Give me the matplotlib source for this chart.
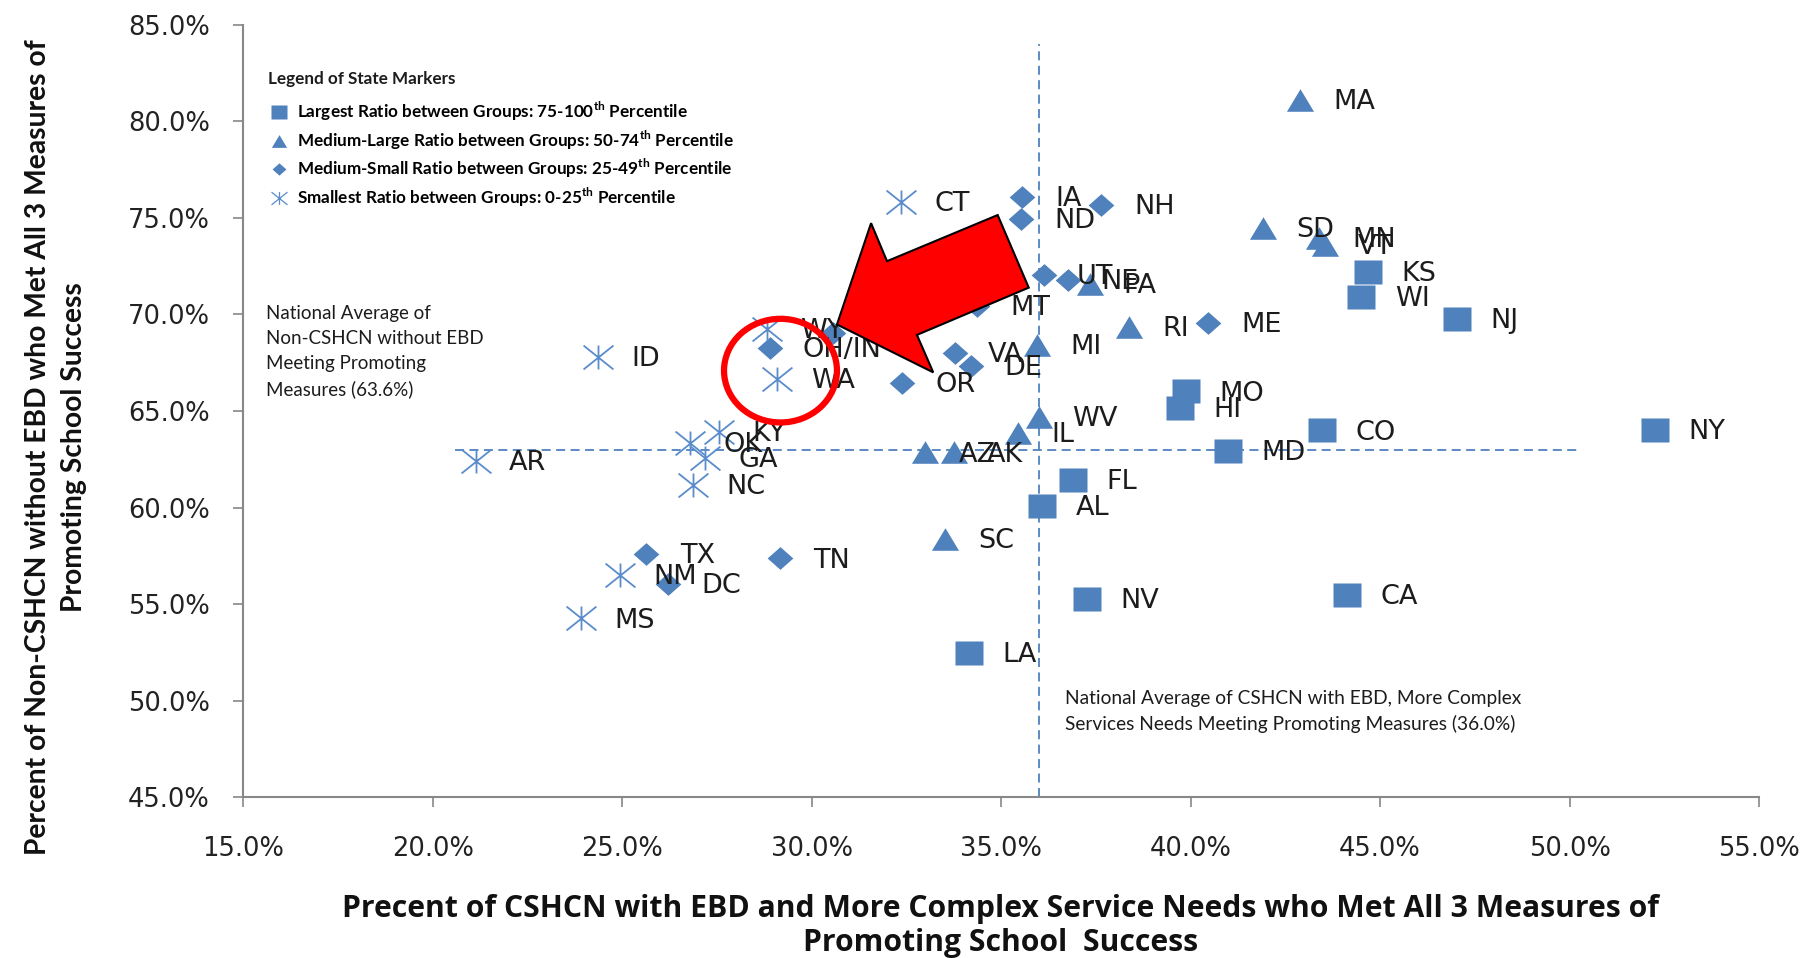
import matplotlib.pyplot as plt
import numpy as np
from matplotlib.lines import Line2D
from matplotlib.patches import Ellipse, Polygon
from matplotlib.path import Path

plt.rcParams['mathtext.fontset'] = 'custom'
plt.rcParams['mathtext.rm'] = 'Lato:bold'

BLUE = '#4F81BD'
TXT = '#1c1c1c'

# Largest ratio between groups: 75-100th percentile (squares)
sq_states = ['KS', 'WI', 'NJ', 'NY', 'MO', 'HI', 'CO', 'MD', 'FL', 'AL', 'NV', 'CA', 'LA']
sq_x = [44.67, 44.51, 47.04, 52.26, 39.89, 39.71, 43.48, 40.99, 36.91, 36.09, 37.28, 44.12, 34.15]
sq_y = [72.22, 70.91, 69.78, 64.04, 66.01, 65.18, 63.99, 62.91, 61.42, 60.10, 55.27, 55.45, 52.46]

# Medium-large ratio: 50-74th percentile (triangles)
tri_states = ['MA', 'SD', 'MN', 'VT', 'PA', 'RI', 'MI', 'WV', 'IL', 'AZ', 'AK', 'SC']
tri_x = [42.90, 41.90, 43.39, 43.54, 37.34, 38.37, 35.94, 36.00, 35.46, 33.00, 33.75, 33.51]
tri_y = [81.12, 74.49, 73.96, 73.60, 71.57, 69.36, 68.40, 64.70, 63.87, 62.85, 62.85, 58.37]

# Medium-small ratio: 25-49th percentile (diamonds); one sits under the arrow
dia_states = ['IA', 'ND', 'NH', 'UT', 'NE', 'MT', 'ME', 'VA', 'DE', 'OR', 'OH/IN', '', 'TX', 'TN', 'DC']
dia_x = [35.55, 35.52, 37.64, 36.12, 36.76, 34.36, 40.47, 33.78, 34.21, 32.39, 28.89, 30.56, 25.64, 29.16, 26.20]
dia_y = [76.10, 74.97, 75.69, 72.04, 71.81, 70.43, 69.54, 67.99, 67.33, 66.43, 68.28, 69.06, 57.60, 57.36, 56.05]

# Smallest ratio: 0-25th percentile (asterisks)
ast_states = ['CT', 'ID', 'WY', 'WA', 'AR', 'KY', 'OK', 'GA', 'NC', 'NM', 'MS']
ast_x = [32.36, 24.36, 28.83, 29.10, 21.14, 27.55, 26.79, 27.19, 26.88, 24.94, 23.91]
ast_y = [75.81, 67.81, 69.24, 66.67, 62.43, 63.93, 63.33, 62.55, 61.18, 56.52, 54.25]

nat_avg_x = 36.0
nat_avg_y = 63.0   # line as drawn in the source
ticks_x = [15, 20, 25, 30, 35, 40, 45, 50, 55]
ticks_y = [45, 50, 55, 60, 65, 70, 75, 80, 85]

# highlight arrow + circle (data coords)
arrow_x = [30.67, 31.57, 31.99, 34.91, 35.73, 32.78, 33.21]
arrow_y = [69.48, 74.73, 72.76, 75.15, 71.39, 68.94, 67.00]

# markers a bit wider than tall, like the (stretched) source image
sq_marker = Path([(-1.17, -1), (1.17, -1), (1.17, 1), (-1.17, 1), (-1.17, -1)], closed=True)
tri_marker = Path([(0, 1), (-1.2, -1), (1.2, -1), (0, 1)], closed=True)
dia_marker = Path([(0, 1), (1.13, 0), (0, -1), (-1.13, 0), (0, 1)], closed=True)
ast_marker = Path([(0, -1), (0, 1), (-1.25, -1), (1.25, 1), (-1.25, 1), (1.25, -1)],
                  [Path.MOVETO, Path.LINETO] * 3)

fig = plt.figure(figsize=(18.06, 9.58), dpi=100)
ax = fig.add_axes([0.1346, 0.168, 0.8394, 0.806])

ax.plot([nat_avg_x, nat_avg_x], [45, 84], ls=(0, (5, 3)), color=BLUE, lw=1.3, zorder=1)
ax.plot([20.6, 50.2], [nat_avg_y, nat_avg_y], ls=(0, (5, 3)), color=BLUE, lw=1.3, zorder=1)

ax.plot(sq_x, sq_y, ls='', marker=sq_marker, ms=20, color=BLUE, mec='none', zorder=3)
ax.plot(tri_x, tri_y, ls='', marker=tri_marker, ms=19.5, color=BLUE, mec='none', zorder=3)
ax.plot(dia_x, dia_y, ls='', marker=dia_marker, ms=18.5, color=BLUE, mec='none', zorder=3)
ax.plot(ast_x, ast_y, ls='', marker=ast_marker, ms=21.5, mfc='none', mec='#5a8ccc', mew=1.3, zorder=3)

for states, xs, ys in [(sq_states, sq_x, sq_y), (tri_states, tri_x, tri_y),
                       (dia_states, dia_x, dia_y), (ast_states, ast_x, ast_y)]:
    for s, x, y in zip(states, xs, ys):
        ax.annotate(s, (x, y), xytext=(24, -1.5), textcoords='offset points',
                    ha='left', va='center', fontsize=19.5, color=TXT, zorder=4)

ax.add_patch(Ellipse((29.18, 67.09), 2.98, 5.37, fill=False, ec='#ff0000', lw=4.5, zorder=5))
ax.add_patch(Polygon(np.column_stack([arrow_x, arrow_y]), closed=True,
                     fc='#ff0000', ec='black', lw=1.5, zorder=6))

ax.text(15.61, 70.5, 'National Average of\nNon-CSHCN without EBD\nMeeting Promoting\nMeasures (63.6%)',
        ha='left', va='top', fontsize=13.5, family='Lato', color=TXT, linespacing=1.57)
ax.text(36.7, 50.55, 'National Average of CSHCN with EBD, More Complex\n'
        'Services Needs Meeting Promoting Measures (36.0%)',
        ha='left', va='top', fontsize=13.8, family='Lato', color=TXT, linespacing=1.5)

handles = [
    Line2D([], [], ls='', marker=sq_marker, ms=11, color=BLUE, mec='none'),
    Line2D([], [], ls='', marker=tri_marker, ms=11, color=BLUE, mec='none'),
    Line2D([], [], ls='', marker=dia_marker, ms=10, color=BLUE, mec='none'),
    Line2D([], [], ls='', marker=ast_marker, ms=11.5, mfc='none', mec='#5a8ccc', mew=0.9),
]
labels = [
    r'Largest Ratio between Groups: 75-100$^{\mathrm{th}}$ Percentile',
    r'Medium-Large Ratio between Groups: 50-74$^{\mathrm{th}}$ Percentile',
    r'Medium-Small Ratio between Groups: 25-49$^{\mathrm{th}}$ Percentile',
    r'Smallest Ratio between Groups: 0-25$^{\mathrm{th}}$ Percentile',
]
ax.text(0.0165, 0.930, 'Legend of State Markers', transform=ax.transAxes, ha='left', va='center',
        fontsize=12.3, family='Lato', weight='bold', color=TXT)
leg = ax.legend(handles, labels, loc='upper left', bbox_to_anchor=(0.012, 0.9135),
                frameon=False, alignment='left',
                prop={'family': 'Lato', 'weight': 'bold', 'size': 12.3},
                handlelength=1.1, handletextpad=0.5, labelspacing=0.31, borderpad=0)

ax.set_xlim(15, 55)
ax.set_ylim(45, 85)
ax.set_xticks(ticks_x)
ax.set_yticks(ticks_y)
ax.set_xticklabels([f'{t:.1f}%' for t in ticks_x])
ax.set_yticklabels([f'{t:.1f}%' for t in ticks_y])
ax.tick_params(direction='out', length=7, width=1.2, color='#888888', labelsize=18.5, labelcolor='#222222')
ax.tick_params(axis='x', pad=21)
ax.tick_params(axis='y', pad=17)
for side in ['top', 'right']:
    ax.spines[side].set_visible(False)
for side in ['left', 'bottom']:
    ax.spines[side].set_color('#888888')
    ax.spines[side].set_linewidth(1.5)

fig.text(0.554, 0.0335, 'Precent of CSHCN with EBD and More Complex Service Needs who Met All 3 Measures of\n'
         'Promoting School  Success', ha='center', va='center', multialignment='center',
         fontsize=21.7, family='Open Sans', weight='bold', color='#111111', linespacing=1.18)
fig.text(0.0309, 0.533, 'Percent of Non-CSHCN without EBD who Met All 3 Measures of\n'
         'Promoting School Success', ha='center', va='center', multialignment='center',
         rotation=90, fontsize=20.3, family='Lato', weight='bold', color='#111111', linespacing=1.5)

fig.savefig('out.png', dpi=100)
